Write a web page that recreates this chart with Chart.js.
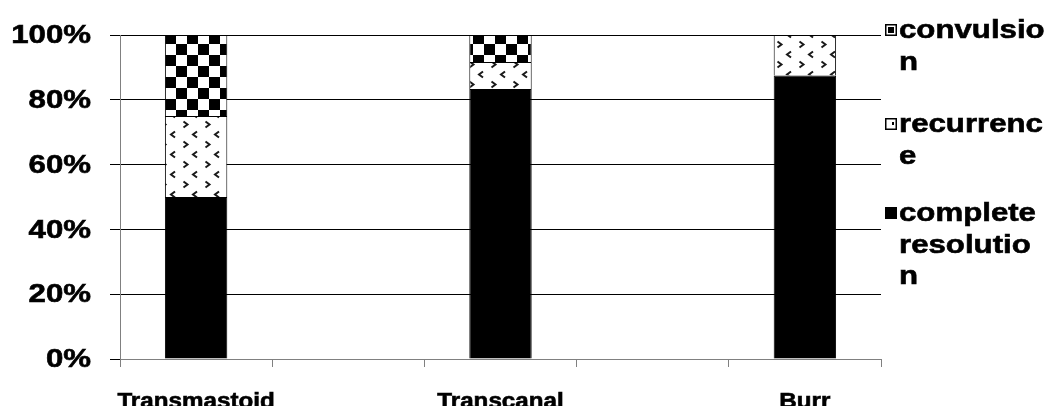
<!DOCTYPE html>
<html>
<head>
<meta charset="utf-8">
<script src="https://cdn.jsdelivr.net/npm/chart.js@4.4.1/dist/chart.umd.min.js"></script>
<style>
  html, body { margin: 0; padding: 0; background: #fff; overflow: hidden; }
</style>
</head>
<body>
<canvas id="chart" width="1054" height="406"></canvas>
<script>
// categories (the two blank ones are empty slots in the original sheet)
const categories = ["Transmastoid", "", "Transcanal", "", "Burr"];

// percentages per category
const completeResolution = [50, null, 83.33, null, 87.5];
const recurrence = [25, null, 8.33, null, 12.5];
const convulsion = [25, null, 8.34, null, 0];

const yTickValues = [0, 20, 40, 60, 80, 100];

// legend text, wrapped the way the original shows it (top to bottom)
const legendConvulsion = ["convulsio", "n"];
const legendRecurrence = ["recurrenc", "e"];
const legendComplete = ["complete", "resolutio", "n"];

const canvas = document.getElementById("chart");
const ctx = canvas.getContext("2d");

// black/white checkerboard
function makeChecker() {
    const c = document.createElement("canvas");
    c.width = 22; c.height = 22;
    const g = c.getContext("2d");
    g.fillStyle = "#fff";
    g.fillRect(0, 0, 22, 22);
    g.fillStyle = "#000";
    g.fillRect(0, 0, 11, 11);
    g.fillRect(11, 11, 11, 11);
    return ctx.createPattern(c, "repeat");
}

// white with little < and > marks
function makeMarks() {
    const c = document.createElement("canvas");
    c.width = 22; c.height = 20;
    const g = c.getContext("2d");
    g.fillStyle = "#fff";
    g.fillRect(0, 0, 22, 20);
    g.strokeStyle = "#1a1a1a";
    g.lineWidth = 2;
    g.beginPath();
    g.moveTo(7.5, 1.5); g.lineTo(11.5, 4.5); g.lineTo(7.5, 7.5);
    g.moveTo(21, 11.5); g.lineTo(17, 14.5); g.lineTo(21, 17.5);
    g.stroke();
    return ctx.createPattern(c, "repeat");
}

const checker = makeChecker();
const marks = makeMarks();

// the original text is a bit wider and heavier than plain bold Arial
function stretchText(c, text, x, y, sx) {
    c.save();
    c.translate(x, y);
    c.scale(sx, 1);
    c.fillText(text, 0, 0);
    c.lineWidth = 0.6;
    c.strokeStyle = "#000";
    c.strokeText(text, 0, 0);
    c.restore();
}

const textPlugin = {
    id: "stretchedText",
    afterDraw(chart) {
        const c = chart.ctx;
        const xs = chart.scales.x;
        const ys = chart.scales.y;
        c.save();
        c.fillStyle = "#000";

        // y tick labels
        c.font = "bold 26px 'Liberation Sans', Arial, sans-serif";
        c.textAlign = "right";
        c.textBaseline = "middle";
        yTickValues.forEach(v => {
            stretchText(c, v + "%", 91, ys.getPixelForValue(v) + 1, 1.2);
        });

        // category labels (cut by the bottom edge, like the original)
        c.font = "bold 22px 'Liberation Sans', Arial, sans-serif";
        c.textAlign = "center";
        c.textBaseline = "alphabetic";
        categories.forEach((lab, i) => {
            if (lab) stretchText(c, lab, xs.getPixelForValue(i), 408, 1.1);
        });

        // legend
        const entries = [
            { lines: legendConvulsion, y: 30, kind: "checker" },
            { lines: legendRecurrence, y: 124, kind: "marks" },
            { lines: legendComplete, y: 213, kind: "solid" }
        ];
        c.font = "bold 26px 'Liberation Sans', Arial, sans-serif";
        c.textAlign = "left";
        c.textBaseline = "middle";
        entries.forEach(e => {
            const bx = 885, by = e.y - 6;
            if (e.kind === "solid") {
                c.fillStyle = "#000";
                c.fillRect(bx, by, 12, 12);
            } else {
                c.fillStyle = "#fff";
                c.fillRect(bx, by, 12, 12);
                c.strokeStyle = "#000";
                c.lineWidth = 1.5;
                c.strokeRect(bx + 0.75, by + 0.75, 10.5, 10.5);
                c.fillStyle = "#000";
                if (e.kind === "checker") {
                    c.fillRect(bx + 3, by + 3, 6, 6);
                } else {
                    c.fillRect(bx + 7, by + 4, 2, 3);
                }
            }
            c.fillStyle = "#000";
            e.lines.forEach((t, k) => {
                stretchText(c, t, 899, e.y + 1 + k * 31.5, 1.2);
            });
        });
        c.restore();
    }
};

new Chart(ctx, {
    type: "bar",
    data: {
        labels: categories,
        datasets: [
            {
                label: "complete resolution",
                data: completeResolution,
                backgroundColor: "#000",
                borderColor: "#000",
                borderWidth: 1
            },
            {
                label: "recurrence",
                data: recurrence,
                backgroundColor: marks,
                borderColor: "#000",
                borderWidth: 1
            },
            {
                label: "convulsion",
                data: convulsion,
                backgroundColor: checker,
                borderColor: "#000",
                borderWidth: 1
            }
        ]
    },
    options: {
        responsive: false,
        animation: false,
        events: [],
        layout: {
            padding: { left: 110, right: 173, top: 35, bottom: 39 }
        },
        datasets: {
            bar: { categoryPercentage: 1, barPercentage: 0.41 }
        },
        plugins: {
            legend: { display: false },
            tooltip: { enabled: false }
        },
        scales: {
            x: {
                stacked: true,
                ticks: { display: false },
                grid: {
                    drawOnChartArea: false,
                    tickLength: 8,
                    color: "#808080"
                },
                border: { color: "#808080", width: 1 }
            },
            y: {
                stacked: true,
                min: 0,
                max: 100,
                ticks: { display: false, stepSize: 20 },
                grid: {
                    color: "#000",
                    tickLength: 10
                },
                border: { color: "#808080", width: 1 }
            }
        }
    },
    plugins: [textPlugin]
});
</script>
</body>
</html>
